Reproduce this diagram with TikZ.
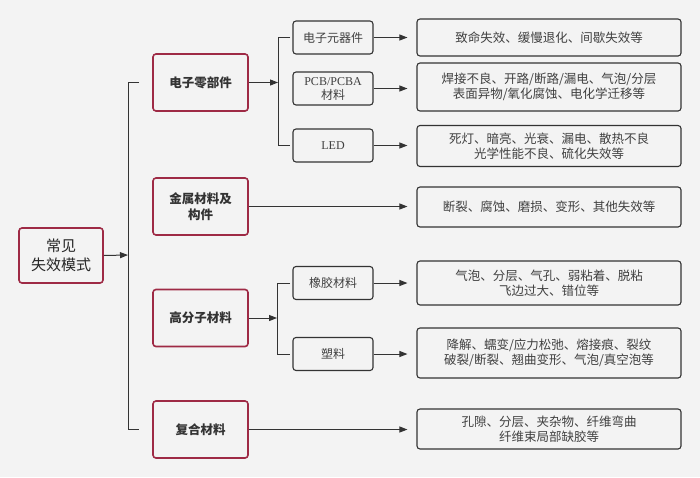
\documentclass[tikz,border=0pt]{standalone}
\usepackage{fontspec}
\setmainfont{Liberation Serif}
\newfontfamily\cjk{Noto Sans CJK SC}
\usetikzlibrary{arrows.meta}
\definecolor{bgcol}{HTML}{F3F3F3}
\definecolor{catred}{HTML}{9E2A45}
\definecolor{linegray}{HTML}{333333}
\tikzset{
  rootnode/.style={draw=catred,line width=1.6pt,rounded corners=3pt,minimum width=84pt,minimum height=55pt,align=center,inner sep=1pt,font=\cjk\fontsize{15}{19}\selectfont,text=black!85},
  catnode/.style={rootnode,minimum width=95pt,minimum height=57pt,font=\cjk\bfseries\fontsize{12.5}{16}\selectfont,text=black!80},
  subnode/.style={draw=linegray,line width=1.1pt,rounded corners=3pt,minimum width=80pt,minimum height=33pt,align=center,inner sep=1pt,font=\cjk\fontsize{12}{14}\selectfont,text=black!75},
  modenode/.style={subnode,minimum width=264pt,font=\cjk\fontsize{12.5}{15}\selectfont},
  linkarrow/.style={-{Triangle[length=8pt,width=6pt]},line width=1pt,linegray},
  brkline/.style={line width=1pt,linegray},
}

\begin{document}
\begin{tikzpicture}[x=1pt,y=-1pt]
  \fill[bgcol] (0,0) rectangle (700,477);
  \useasboundingbox (0,0) rectangle (700,477);
  % root and categories
  \node[rootnode] (nRoot) at (61,255.5) {常见\\失效模式};
  \node[catnode] (nElec) at (200.5,82.5) {电子零部件};
  \node[catnode] (nMetal) at (200.5,206.5) {金属材料及\\构件};
  \node[catnode] (nPoly) at (200.5,318) {高分子材料};
  \node[catnode] (nComp) at (200.5,429.5) {复合材料};
  % sub items
  \node[subnode] (nPart) at (333,37.5) {电子元器件};
  \node[subnode] (nPcb) at (333,88.5) {{\rmfamily PCB/PCBA}\\材料};
  \node[subnode] (nLed) at (333,145.5) {\rmfamily LED};
  \node[subnode] (nRubber) at (333,283) {橡胶材料};
  \node[subnode] (nPlastic) at (333,354) {塑料};
  % failure modes
  \node[modenode,minimum height=37pt] (mPart) at (549,37.5) {致命失效、缓慢退化、间歇失效等};
  \node[modenode,minimum height=48pt] (mPcb) at (549,87) {焊接不良、开路/断路/漏电、气泡/分层\\表面异物/氧化腐蚀、电化学迁移等};
  \node[modenode,minimum height=41pt] (mLed) at (549,146) {死灯、暗亮、光衰、漏电、散热不良\\光学性能不良、硫化失效等};
  \node[modenode,minimum height=40pt] (mMetal) at (549,207) {断裂、腐蚀、磨损、变形、其他失效等};
  \node[modenode,minimum height=44pt] (mRubber) at (549,283) {气泡、分层、气孔、弱粘着、脱粘\\飞边过大、错位等};
  \node[modenode,minimum height=50pt] (mPlastic) at (549,353) {降解、蠕变/应力松弛、熔接痕、裂纹\\破裂/断裂、翘曲变形、气泡/真空泡等};
  \node[modenode,minimum height=40pt] (mComp) at (549,429) {孔隙、分层、夹杂物、纤维弯曲\\纤维束局部缺胶等};

  % brackets
  \coordinate (bRootA) at (139,82);
  \coordinate (bRootB) at (128,82);
  \coordinate (bRootC) at (128,429);
  \coordinate (bRootD) at (139,429);
  \coordinate (bRootIn) at (128,255);
  \draw[brkline] (bRootA) -- (bRootB) -- (bRootC) -- (bRootD);
  \draw[linkarrow] (nRoot.east) -- (bRootIn);

  \coordinate (bElecA) at (290,37);
  \coordinate (bElecB) at (278,37);
  \coordinate (bElecC) at (278,145);
  \coordinate (bElecD) at (290,145);
  \coordinate (bElecIn) at (278,82.5);
  \draw[brkline] (bElecA) -- (bElecB) -- (bElecC) -- (bElecD);
  \draw[linkarrow] (nElec.east) -- (bElecIn);

  \coordinate (bPolyA) at (290,283);
  \coordinate (bPolyB) at (277,283);
  \coordinate (bPolyC) at (277,354);
  \coordinate (bPolyD) at (290,354);
  \coordinate (bPolyIn) at (277,318);
  \draw[brkline] (bPolyA) -- (bPolyB) -- (bPolyC) -- (bPolyD);
  \draw[linkarrow] (nPoly.east) -- (bPolyIn);

  % arrows to failure modes
  \draw[linkarrow,shorten >=9pt] (nPart.east) -- (nPart.east -| mPart.west);
  \draw[linkarrow,shorten >=9pt] (nPcb.east) -- (nPcb.east -| mPcb.west);
  \draw[linkarrow,shorten >=9pt] (nLed.east) -- (nLed.east -| mLed.west);
  \draw[linkarrow,shorten >=9pt] (nMetal.east) -- (nMetal.east -| mMetal.west);
  \draw[linkarrow,shorten >=9pt] (nRubber.east) -- (nRubber.east -| mRubber.west);
  \draw[linkarrow,shorten >=9pt] (nPlastic.east) -- (nPlastic.east -| mPlastic.west);
  \draw[linkarrow,shorten >=9pt] (nComp.east) -- (nComp.east -| mComp.west);
\end{tikzpicture}
\end{document}
